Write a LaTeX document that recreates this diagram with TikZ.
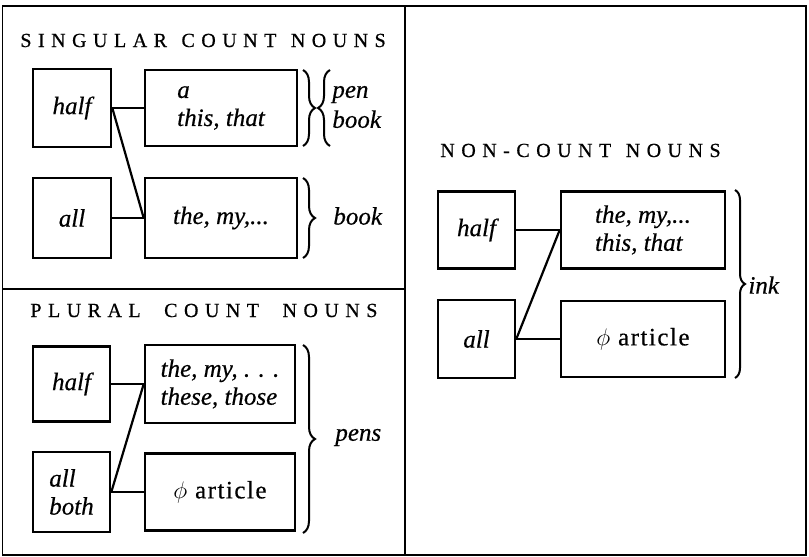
\documentclass[tikz,border=0pt]{standalone}
\usepackage{fontspec}
\setmainfont[FakeBold=0.5]{Liberation Serif}
\newfontfamily\headfont[LetterSpace=32.5,FakeBold=0.6]{Liberation Serif}
\newfontfamily\wideserif[LetterSpace=6,FakeBold=0.5]{Liberation Serif}
\usetikzlibrary{decorations.pathreplacing}
\begin{document}
\begin{tikzpicture}[x=0.5pt,y=-0.5pt,
  frame/.style={line width=0.9pt},
  wordbox/.style={draw, line width=1.3pt, rectangle, inner sep=0pt,
    font=\fontsize{12.5}{14}\selectfont\itshape, align=left},
  link/.style={line width=1.1pt},
  curly/.style={decorate, decoration={brace, amplitude=6pt}, line width=1pt},
  heading/.style={anchor=base west, inner sep=0pt, font=\fontsize{10}{11}\headfont},
  noun/.style={anchor=west, inner sep=0pt, align=left,
    font=\fontsize{12.5}{15}\selectfont\itshape}]
\useasboundingbox (0,0) rectangle (809,557);

% outer frame and panel dividers
\draw[frame] (2.5,6) rectangle (806,555);
\draw[frame] (405,6) -- (405,555);
\draw[frame] (2.5,289) -- (405,289);

% singular count nouns
\node[heading] (sghead) at (20,47) {SINGULAR\hspace{1.5pt} COUNT\hspace{1.5pt} NOUNS};
\node[wordbox, minimum width=39pt, minimum height=39pt] (sghalf) at (72,108) {half};
\node[wordbox, minimum width=76pt, minimum height=38pt] (sga) at (221,108) {a\\this, that};
\node[wordbox, minimum width=39pt, minimum height=40pt] (sgall) at (72,218) {all};
\node[wordbox, minimum width=76pt, minimum height=40pt] (sgthe) at (221,218) {the, my,...};
\draw[link] (sghalf.east) -- (sga.west);
\draw[link] (sghalf.east) -- (sgthe.west);
\draw[link] (sgall.east) -- (sgthe.west);
\draw[curly] (303,70) -- (303,146);
\draw[curly] (330,146) -- (330,70);
\draw[curly] (303,178) -- (303,258);
\node[noun] (sgpen) at (332,107) {pen\\book};
\node[noun] (sgbook) at (333,216) {book};

% plural count nouns
\node[heading] (plhead) at (30,317) {PLURAL\hspace{6pt} COUNT\hspace{6pt} NOUNS};
\node[wordbox, minimum width=38.5pt, minimum height=37.5pt] (plhalf) at (71.5,384) {half};
\node[wordbox, minimum width=75pt, minimum height=39pt] (plthe) at (220,384) {the, my, . . .\\these, those};
\node[wordbox, minimum width=38.5pt, minimum height=40pt] (plall) at (71.5,492) {all\\both};
\node[wordbox, minimum width=75pt, minimum height=38.5pt] (plphi) at (220,492) {\wideserif\upshape $\phi$ article};
\draw[link] (plhalf.east) -- (plthe.west);
\draw[link] (plall.east) -- (plthe.west);
\draw[link] (plall.east) -- (plphi.west);
\draw[curly] (303,345) -- (303,533);
\node[noun] (plpens) at (335,437.5) {pens};

% non-count nouns
\node[heading] (nchead) at (440,157) {NON-COUNT\hspace{1.5pt} NOUNS};
\node[wordbox, minimum width=38.5pt, minimum height=38.5pt] (nchalf) at (476.5,230) {half};
\node[wordbox, minimum width=82pt, minimum height=38.5pt] (ncthe) at (643,230) {the, my,...\\this, that};
\node[wordbox, minimum width=38.5pt, minimum height=39pt] (ncall) at (476.5,339) {all};
\node[wordbox, minimum width=82pt, minimum height=38pt] (ncphi) at (643,339) {\wideserif\upshape $\phi$ article};
\draw[link] (nchalf.east) -- (ncthe.west);
\draw[link] (ncall.east) -- (ncthe.west);
\draw[link] (ncall.east) -- (ncphi.west);
\draw[curly, decoration={brace, amplitude=5pt}] (735,190) -- (735,378);
\node[noun] (ncink) at (748,285) {ink};
\end{tikzpicture}
\end{document}
